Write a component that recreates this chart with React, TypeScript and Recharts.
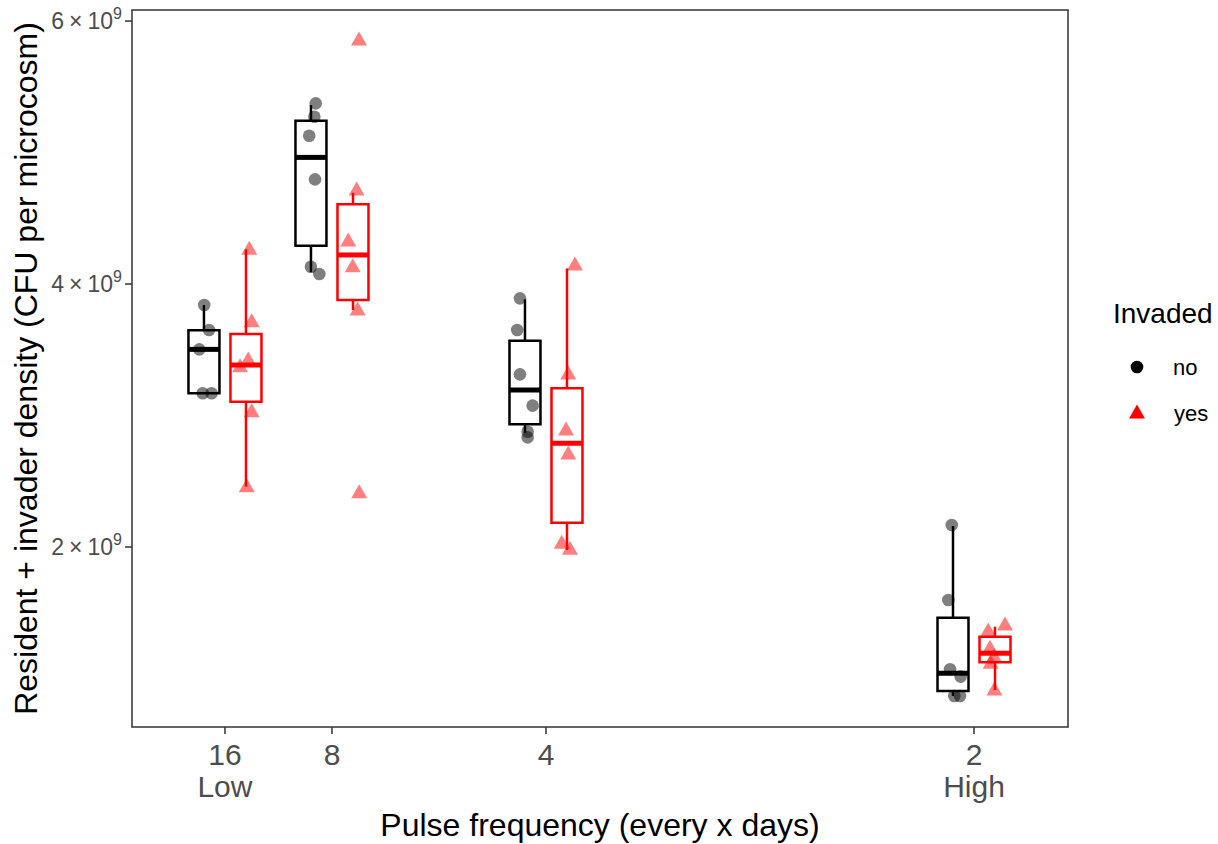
import React from 'react'
import {
  ComposedChart,
  Scatter,
  XAxis,
  YAxis,
  ReferenceArea,
  ReferenceLine,
  Label,
} from 'recharts'

// pulse interval (days) -> plotted as frequency 1/days
const days = [16, 8, 4, 2]
const dayLabels = ['16', '8', '4', '2']
const daySub = ['Low', '', '', 'High']
const yTicks = [2e9, 4e9, 6e9]

// box stats (CFU per microcosm, x1e9)
const noLow = [3.169, 4.09, 2.869, 0.867]
const noQ1 = [3.169, 4.291, 2.933, 0.905]
const noMed = [3.503, 4.963, 3.194, 1.04]
const noQ3 = [3.648, 5.242, 3.569, 1.462]
const noHigh = [3.84, 5.361, 3.884, 2.16]

const yesLow = [2.459, 3.802, 1.977, 0.913]
const yesQ1 = [3.105, 3.878, 2.185, 1.123]
const yesMed = [3.384, 4.221, 2.789, 1.192]
const yesQ3 = [3.62, 4.606, 3.207, 1.318]
const yesHigh = [4.264, 4.694, 4.119, 1.394]

// jittered points (x = frequency incl. jitter, y = density x1e9)
const noPtsX = [
  0.0504, 0.0532, 0.0475, 0.0495, 0.0547,
  0.1155, 0.1147, 0.1117, 0.1151, 0.1127, 0.1176,
  0.2348, 0.2332, 0.2348, 0.2422, 0.2393, 0.2393,
  0.487, 0.485, 0.486, 0.4922, 0.4885, 0.4918,
]
const noPtsY = [
  3.84, 3.65, 3.503, 3.169, 3.169,
  5.374, 5.272, 5.128, 4.796, 4.131, 4.076,
  3.891, 3.65, 3.313, 3.075, 2.877, 2.834,
  2.167, 1.597, 1.07, 1.014, 0.867, 0.867,
]
const yesPtsX = [
  0.0767, 0.0781, 0.0713, 0.0761, 0.0781, 0.0752,
  0.1408, 0.1394, 0.1345, 0.1371, 0.14, 0.1409,
  0.2669, 0.263, 0.2617, 0.263, 0.2592, 0.264,
  0.5181, 0.5083, 0.5093, 0.5117, 0.5097, 0.5119,
]
const yesPtsY = [
  4.264, 3.713, 3.371, 3.422, 3.029, 2.459,
  5.856, 4.715, 4.327, 4.131, 3.802, 2.413,
  4.144, 3.316, 2.89, 2.707, 2.028, 1.982,
  1.407, 1.361, 1.23, 1.166, 1.116, 0.913,
]

const X_DOMAIN = [0.0082, 0.5549]
const Y_DOMAIN = [0.631e9, 6.084e9]
const DODGE = 0.01227
const HALF = 0.00905
const FONT = '"Liberation Sans", Arial, Helvetica, sans-serif'

const noPoints = noPtsX.map((x, i) => ({ x, y: noPtsY[i] * 1e9 }))
const yesPoints = yesPtsX.map((x, i) => ({ x, y: yesPtsY[i] * 1e9 }))

const groups = [
  { color: '#000000', off: -DODGE, lo: noLow, q1: noQ1, med: noMed, q3: noQ3, hi: noHigh },
  { color: '#FF0000', off: DODGE, lo: yesLow, q1: yesQ1, med: yesMed, q3: yesQ3, hi: yesHigh },
]

const XTick = ({ x, y, payload }: any) => {
  const i = days.findIndex(d => Math.abs(1 / d - payload.value) < 1e-6)
  return (
    <g>
      <text x={x} y={y + 29} textAnchor="middle" fill="#4D4D4D" fontSize={30} style={{ fontSize: 30, fontFamily: FONT }}>
        {dayLabels[i]}
      </text>
      {daySub[i] && (
        <text x={x} y={y + 61} textAnchor="middle" fill="#4D4D4D" fontSize={30} style={{ fontSize: 30, fontFamily: FONT }}>
          {daySub[i]}
        </text>
      )}
    </g>
  )
}

const YTick = ({ x, y, payload }: any) => (
  <g>
    <text x={x} y={y + 8} textAnchor="end" fill="#4D4D4D" fontSize={23} style={{ fontSize: 23, fontFamily: FONT }}>
      <tspan>{String(payload.value / 1e9)}</tspan>
      <tspan dx={5}>×</tspan>
      <tspan dx={5}>10</tspan>
      <tspan dy={-10} fontSize={16} style={{ fontSize: 16 }}>9</tspan>
    </text>
  </g>
)

const Circle = ({ cx, cy }: any) => (
  <circle cx={cx} cy={cy} r={6.3} fill="#000" fillOpacity={0.5} />
)

const Triangle = ({ cx, cy }: any) => (
  <polygon
    points={`${cx},${cy - 8.5} ${cx - 8},${cy + 5.5} ${cx + 8},${cy + 5.5}`}
    fill="#FF0000"
    fillOpacity={0.5}
  />
)

export default function App() {
  return (
    <div style={{ position: 'absolute', left: 0, top: 0, width: 1218, height: 844, background: '#fff', fontFamily: FONT }}>
      <ComposedChart width={1218} height={844} margin={{ top: 10, right: 150, bottom: 0, left: 0 }}>
        <XAxis
          type="number"
          dataKey="x"
          domain={X_DOMAIN}
          allowDataOverflow
          ticks={days.map(d => 1 / d)}
          tick={<XTick />}
          tickLine={{ stroke: '#333333', strokeWidth: 1.5 }}
          tickSize={7}
          axisLine={false}
          height={117}
        >
          <Label
            content={({ viewBox }: any) => (
              <text
                x={viewBox.x + viewBox.width / 2}
                y={836}
                textAnchor="middle"
                fill="#000"
                style={{ fontSize: 32, fontFamily: FONT }}
              >
                Pulse frequency (every x days)
              </text>
            )}
          />
        </XAxis>
        <YAxis
          type="number"
          dataKey="y"
          domain={Y_DOMAIN}
          allowDataOverflow
          ticks={yTicks}
          tick={<YTick />}
          tickLine={{ stroke: '#333333', strokeWidth: 1.5 }}
          tickSize={7}
          tickMargin={3}
          axisLine={false}
          width={132}
        >
          <Label
            content={({ viewBox }: any) => (
              <text
                x={37}
                y={viewBox.y + viewBox.height / 2}
                transform={`rotate(-90 37 ${viewBox.y + viewBox.height / 2})`}
                textAnchor="middle"
                fill="#000"
                style={{ fontSize: 32, fontFamily: FONT }}
              >
                Resident + invader density (CFU per microcosm)
              </text>
            )}
          />
        </YAxis>

        {/* boxes, whiskers and medians */}
        {groups.map(g =>
          days.map((d, i) => {
            const c = 1 / d + g.off
            return (
              <React.Fragment key={`${g.color}-${d}`}>
                <ReferenceLine
                  segment={[{ x: c, y: g.q3[i] * 1e9 }, { x: c, y: g.hi[i] * 1e9 }]}
                  stroke={g.color}
                  strokeWidth={2.5}
                />
                <ReferenceLine
                  segment={[{ x: c, y: g.lo[i] * 1e9 }, { x: c, y: g.q1[i] * 1e9 }]}
                  stroke={g.color}
                  strokeWidth={2.5}
                />
                <ReferenceArea
                  x1={c - HALF}
                  x2={c + HALF}
                  y1={g.q1[i] * 1e9}
                  y2={g.q3[i] * 1e9}
                  fill="#ffffff"
                  fillOpacity={1}
                  stroke={g.color}
                  strokeWidth={2.5}
                />
                <ReferenceLine
                  segment={[{ x: c - HALF, y: g.med[i] * 1e9 }, { x: c + HALF, y: g.med[i] * 1e9 }]}
                  stroke={g.color}
                  strokeWidth={5}
                />
              </React.Fragment>
            )
          })
        )}

        <Scatter data={noPoints} dataKey="y" shape={<Circle />} isAnimationActive={false} />
        <Scatter data={yesPoints} dataKey="y" shape={<Triangle />} isAnimationActive={false} />

        {/* panel border */}
        <ReferenceArea
          x1={X_DOMAIN[0]}
          x2={X_DOMAIN[1]}
          y1={Y_DOMAIN[0]}
          y2={Y_DOMAIN[1]}
          fill="none"
          stroke="#333333"
          strokeWidth={1.5}
        />
      </ComposedChart>

      {/* legend */}
      <div style={{ position: 'absolute', left: 1113, top: 296, color: '#000' }}>
        <div style={{ fontSize: 28, lineHeight: '36px' }}>Invaded</div>
        <svg width={105} height={96} style={{ display: 'block' }}>
          <circle cx={24} cy={35} r={6.3} fill="#000" />
          <text x={60} y={43} style={{ fontSize: 22, fontFamily: FONT }}>no</text>
          <polygon points="24,72.5 16,86.5 32,86.5" fill="#FF0000" />
          <text x={61} y={89} style={{ fontSize: 22, fontFamily: FONT }}>yes</text>
        </svg>
      </div>
    </div>
  )
}
